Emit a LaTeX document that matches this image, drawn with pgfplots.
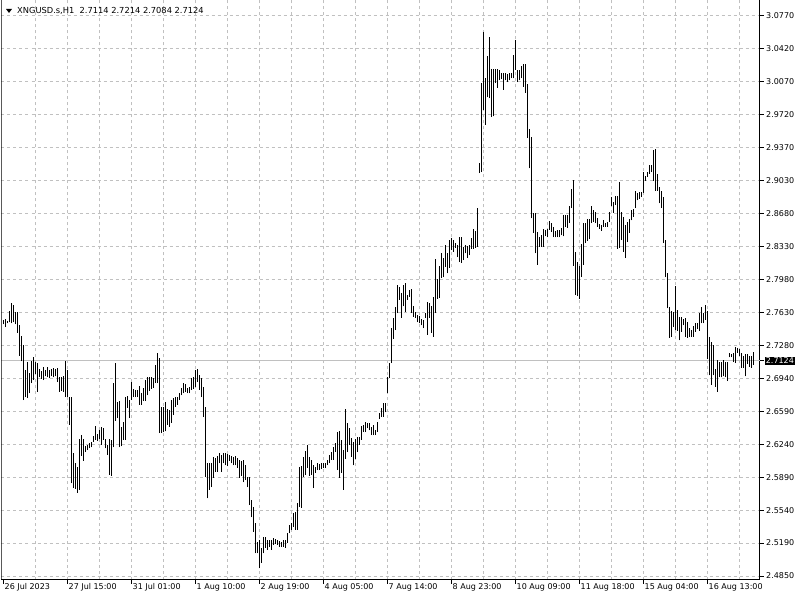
\documentclass[border=0pt]{standalone}
\usepackage{pgfplots}
\pgfplotsset{compat=1.18}
\usepackage{pgfplotstable}
\usepackage{fontspec}
\setmainfont{DejaVu Sans}
\definecolor{gridgray}{RGB}{192,192,192}
\pgfplotstableread{
hi lo
2.756 2.751
2.757 2.748
2.755 2.752
2.765 2.753
2.774 2.752
2.771 2.753
2.764 2.751
2.764 2.742
2.750 2.718
2.739 2.712
2.729 2.671
2.703 2.674
2.711 2.673
2.700 2.678
2.712 2.689
2.717 2.692
2.711 2.699
2.710 2.680
2.704 2.695
2.702 2.693
2.706 2.692
2.703 2.696
2.706 2.695
2.703 2.694
2.704 2.696
2.705 2.695
2.704 2.696
2.705 2.690
2.695 2.680
2.695 2.681
2.696 2.680
2.712 2.674
2.703 2.674
2.674 2.645
2.674 2.583
2.615 2.578
2.604 2.577
2.600 2.573
2.630 2.576
2.634 2.612
2.630 2.607
2.622 2.616
2.624 2.618
2.626 2.620
2.627 2.621
2.633 2.627
2.644 2.629
2.635 2.628
2.639 2.630
2.643 2.624
2.641 2.629
2.630 2.620
2.624 2.613
2.630 2.592
2.629 2.591
2.689 2.621
2.710 2.649
2.669 2.652
2.670 2.621
2.643 2.622
2.648 2.629
2.674 2.629
2.675 2.663
2.671 2.652
2.690 2.671
2.683 2.674
2.682 2.674
2.682 2.674
2.686 2.666
2.678 2.666
2.684 2.670
2.692 2.670
2.695 2.676
2.695 2.681
2.695 2.683
2.694 2.684
2.708 2.689
2.721 2.689
2.715 2.636
2.664 2.636
2.664 2.637
2.669 2.638
2.662 2.645
2.661 2.643
2.671 2.647
2.673 2.655
2.674 2.664
2.674 2.666
2.678 2.671
2.684 2.676
2.689 2.678
2.688 2.680
2.684 2.678
2.685 2.678
2.694 2.682
2.695 2.683
2.703 2.685
2.704 2.690
2.698 2.682
2.694 2.674
2.685 2.653
2.664 2.590
2.604 2.567
2.604 2.576
2.604 2.579
2.611 2.589
2.610 2.595
2.612 2.595
2.615 2.604
2.613 2.595
2.615 2.604
2.615 2.602
2.614 2.601
2.613 2.607
2.612 2.604
2.611 2.602
2.612 2.602
2.610 2.599
2.608 2.589
2.607 2.591
2.608 2.584
2.602 2.587
2.590 2.579
2.590 2.560
2.565 2.547
2.558 2.532
2.541 2.509
2.521 2.509
2.523 2.493
2.515 2.499
2.526 2.509
2.526 2.515
2.523 2.513
2.523 2.516
2.523 2.513
2.525 2.518
2.524 2.519
2.523 2.518
2.522 2.516
2.521 2.516
2.523 2.516
2.523 2.515
2.530 2.520
2.539 2.530
2.541 2.534
2.552 2.537
2.553 2.534
2.562 2.534
2.600 2.558
2.601 2.557
2.611 2.590
2.617 2.592
2.624 2.599
2.611 2.591
2.608 2.592
2.602 2.578
2.600 2.594
2.604 2.597
2.603 2.597
2.604 2.598
2.604 2.599
2.604 2.599
2.608 2.602
2.613 2.604
2.616 2.608
2.621 2.608
2.626 2.616
2.637 2.597
2.638 2.589
2.629 2.594
2.618 2.576
2.662 2.609
2.647 2.616
2.641 2.624
2.631 2.611
2.627 2.602
2.630 2.609
2.632 2.616
2.632 2.624
2.644 2.629
2.645 2.637
2.648 2.637
2.647 2.641
2.647 2.639
2.643 2.634
2.645 2.634
2.639 2.634
2.648 2.637
2.657 2.651
2.663 2.653
2.668 2.653
2.668 2.658
2.695 2.678
2.710 2.694
2.747 2.710
2.758 2.736
2.769 2.745
2.793 2.763
2.790 2.777
2.784 2.758
2.793 2.770
2.795 2.764
2.782 2.777
2.787 2.780
2.788 2.763
2.770 2.759
2.764 2.758
2.761 2.753
2.760 2.752
2.757 2.750
2.756 2.747
2.763 2.758
2.775 2.740
2.774 2.758
2.770 2.742
2.780 2.738
2.820 2.763
2.799 2.778
2.813 2.779
2.826 2.800
2.821 2.801
2.835 2.812
2.826 2.805
2.840 2.811
2.842 2.830
2.840 2.828
2.837 2.832
2.835 2.822
2.843 2.817
2.843 2.816
2.833 2.819
2.835 2.826
2.834 2.821
2.835 2.824
2.842 2.831
2.852 2.831
2.850 2.832
2.874 2.833
2.922 2.911
3.006 2.912
3.060 2.978
3.011 2.962
3.035 2.991
3.055 2.990
3.021 2.970
3.021 2.971
3.021 3.006
3.021 3.001
3.020 3.009
3.017 3.010
3.017 2.999
3.017 3.009
3.016 3.007
3.017 3.009
3.017 3.011
3.036 3.011
3.052 3.020
3.020 3.007
3.020 3.009
3.024 3.011
3.026 3.002
3.026 2.996
3.005 2.948
2.958 2.916
2.949 2.863
2.869 2.848
2.869 2.826
2.849 2.814
2.843 2.833
2.845 2.833
2.852 2.833
2.851 2.844
2.852 2.843
2.860 2.851
2.858 2.849
2.854 2.843
2.850 2.843
2.851 2.843
2.851 2.843
2.853 2.845
2.867 2.844
2.867 2.854
2.867 2.853
2.876 2.858
2.894 2.874
2.904 2.813
2.827 2.782
2.817 2.781
2.813 2.778
2.836 2.801
2.858 2.814
2.858 2.837
2.862 2.839
2.862 2.841
2.876 2.858
2.872 2.859
2.870 2.858
2.863 2.854
2.857 2.852
2.856 2.850
2.861 2.854
2.858 2.854
2.859 2.854
2.870 2.859
2.886 2.876
2.880 2.869
2.887 2.877
2.887 2.831
2.901 2.832
2.870 2.840
2.865 2.828
2.856 2.821
2.859 2.838
2.862 2.848
2.872 2.861
2.873 2.865
2.892 2.874
2.890 2.882
2.891 2.884
2.891 2.886
2.912 2.890
2.908 2.903
2.912 2.907
2.919 2.910
2.920 2.912
2.935 2.903
2.936 2.892
2.910 2.892
2.896 2.879
2.892 2.874
2.886 2.837
2.840 2.801
2.805 2.768
2.769 2.737
2.765 2.738
2.764 2.748
2.792 2.745
2.766 2.744
2.759 2.734
2.759 2.743
2.757 2.750
2.758 2.738
2.753 2.737
2.747 2.738
2.745 2.738
2.749 2.738
2.752 2.743
2.752 2.746
2.763 2.744
2.769 2.752
2.763 2.752
2.771 2.756
2.765 2.714
2.738 2.697
2.732 2.687
2.729 2.697
2.704 2.685
2.713 2.680
2.711 2.695
2.711 2.695
2.713 2.696
2.711 2.695
2.711 2.691
2.721 2.716
2.720 2.716
2.721 2.711
2.727 2.710
2.726 2.721
2.725 2.718
2.721 2.705
2.718 2.705
2.720 2.696
2.720 2.709
2.718 2.706
2.718 2.705
2.7214 2.7084
}\ohlc

\begin{document}
\begin{tikzpicture}
\useasboundingbox (0pt,0pt) rectangle (800pt,600pt);
\begin{axis}[
  at={(1.5pt,20.5pt)}, anchor=south west,
  width=758pt, height=579.5pt, scale only axis,
  xmin=-1, xmax=378, ymin=2.4813, ymax=3.0939,
  axis x line*=bottom, axis y line*=right,
  axis line style={black, line width=1pt},
  xtick={0,32,...,352},
  xticklabels={26 Jul 2023, 27 Jul 15:00, 31 Jul 01:00, 1 Aug 10:00, 2 Aug 19:00, 4 Aug 05:00, 7 Aug 14:00, 8 Aug 23:00, 10 Aug 09:00, 11 Aug 18:00, 15 Aug 04:00, 16 Aug 13:00},
  minor xtick={16,32,...,368},
  xmajorgrids=false, xminorgrids=true, ymajorgrids=true,
  ytick={3.0770,3.0422,3.0074,2.9725,2.9377,2.9029,2.8681,2.8332,2.7984,2.7636,2.7288,2.6939,2.6591,2.6243,2.5895,2.5546,2.5198,2.4850},
  yticklabels={3.0770,3.0420,3.0070,2.9720,2.9370,2.9030,2.8680,2.8330,2.7980,2.7630,2.7280,2.6940,2.6590,2.6240,2.5890,2.5540,2.5190,2.4850},
  major grid style={gridgray, dash pattern=on 3pt off 3pt, line width=1pt},
  minor grid style={gridgray, dash pattern=on 3pt off 3pt, line width=1pt},
  tick align=outside, major tick length=4pt, minor tick length=0pt,
  tick style={black, line width=1pt},
  /pgf/number format/assume math mode=true,
  tick label style={font=\fontsize{8}{9.6}\selectfont},
  xticklabel style={anchor=north west, inner sep=0pt, xshift=1pt},
  yticklabel style={anchor=west, inner sep=0pt, xshift=2.5pt},
  extra y ticks={2.7124}, extra y tick labels={2.7124},
  extra y tick style={major grid style={solid, gridgray, line width=1pt},
    yticklabel style={fill=black, text=white, inner sep=1.2pt, xshift=-1.5pt}},
]
\addplot[draw=none, mark=none,
  error bars/.cd, y dir=plus, y explicit, error mark=none,
  error bar style={draw=black, line width=1pt, solid}]
  table[x expr=\coordindex, y=lo, y error expr=\thisrow{hi}-\thisrow{lo}] {\ohlc};
\draw[black, line width=1pt] (rel axis cs:0,0) -- (rel axis cs:0,1);
\end{axis}
\fill[black] (6pt,591pt) -- (12pt,591pt) -- (9pt,587pt) -- cycle;
\node[anchor=base west, inner sep=0pt, font=\fontsize{8.3}{9.6}\selectfont] at (17pt,586pt) {XNGUSD.s,H1\ \ 2.7114 2.7214 2.7084 2.7124};
\end{tikzpicture}
\end{document}
